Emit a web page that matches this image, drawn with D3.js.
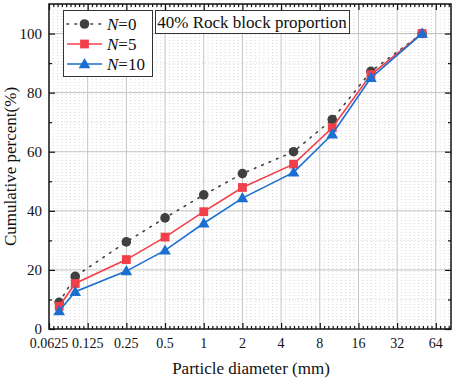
<!DOCTYPE html>
<html>
<head>
<meta charset="utf-8">
<script src="https://cdn.jsdelivr.net/npm/d3@7"></script>
<style>
	body { margin: 0; background: #fff; }
	svg text { font-family: "Liberation Serif", "Times New Roman", serif; fill: #111; }
</style>
</head>
<body>
<div id="graphic"></div>
<script>
// particle sizes (mm) and cumulative percent passing
const sizes = [0.075, 0.1, 0.25, 0.5, 1, 2, 5, 10, 20, 50];
const n0 = [9.0, 17.8, 29.5, 37.6, 45.4, 52.6, 60.0, 70.9, 87.2, 100];
const n5 = [7.7, 15.4, 23.5, 31.1, 39.7, 47.9, 55.8, 68.1, 86.1, 100];
const n10 = [6.1, 12.6, 19.6, 26.6, 35.8, 44.3, 53.0, 65.9, 85.0, 100];
const xTicks = [0.0625, 0.125, 0.25, 0.5, 1, 2, 4, 8, 16, 32, 64];
const xTickLabels = ['0.0625', '0.125', '0.25', '0.5', '1', '2', '4', '8', '16', '32', '64'];
const yTicks = [0, 20, 40, 60, 80, 100];
const seriesNames = ['0', '5', '10'];

const width = 457, height = 379;
const margin = { top: 4, right: 6, bottom: 50, left: 49 };
const chartWidth = width - margin.left - margin.right;
const chartHeight = height - margin.top - margin.bottom;

const series = [
	{ name: seriesNames[0], values: n0, colour: '#404040', shape: 'circle', dash: '1.6,6.4', width: 1.6 },
	{ name: seriesNames[1], values: n5, colour: '#f2404b', shape: 'square', dash: null, width: 1.6 },
	{ name: seriesNames[2], values: n10, colour: '#1b6fd1', shape: 'triangle', dash: null, width: 1.6 }
];

const svg = d3.select('#graphic').append('svg')
	.attr('width', width)
	.attr('height', height);

const g = svg.append('g').attr('transform', `translate(${margin.left},${margin.top})`);

const x = d3.scaleLog().base(2).domain([0.0625, 84]).range([0, chartWidth]);
const y = d3.scaleLinear().domain([0, 110]).range([chartHeight, 0]);

// minor ticks: 8 per octave, evenly spaced in log space
let xMinor = [];
for (let i = 0; i < xTicks.length; i++) {
	for (let k = 1; k < 9; k++) {
		const v = xTicks[i] * Math.pow(2, k / 9);
		if (v < x.domain()[1]) xMinor.push(v);
	}
}
const yMinor = [10, 30, 50, 70, 90];

// minor grid (dotted)
g.append('g').selectAll('line').data(xMinor).join('line')
	.attr('x1', d => x(d)).attr('x2', d => x(d))
	.attr('y1', 0).attr('y2', chartHeight)
	.attr('stroke', '#cfcfcf').attr('stroke-width', 0.8).attr('stroke-dasharray', '1,2');
g.append('g').selectAll('line').data(yMinor).join('line')
	.attr('x1', 0).attr('x2', chartWidth)
	.attr('y1', d => y(d)).attr('y2', d => y(d))
	.attr('stroke', '#cfcfcf').attr('stroke-width', 0.8).attr('stroke-dasharray', '1,2');

// major grid
g.append('g').selectAll('line').data(xTicks.slice(1)).join('line')
	.attr('x1', d => x(d)).attr('x2', d => x(d))
	.attr('y1', 0).attr('y2', chartHeight)
	.attr('stroke', '#c4c4c4').attr('stroke-width', 1);
g.append('g').selectAll('line').data(yTicks.slice(1)).join('line')
	.attr('x1', 0).attr('x2', chartWidth)
	.attr('y1', d => y(d)).attr('y2', d => y(d))
	.attr('stroke', '#c4c4c4').attr('stroke-width', 1);

// axes with inward ticks
function styleAxis(sel) {
	sel.select('.domain').remove();
	sel.selectAll('line').attr('stroke', '#111').attr('stroke-width', 1.2);
}
g.append('g').attr('transform', `translate(0,${chartHeight})`)
	.call(d3.axisTop(x).tickValues(xTicks).tickSize(6).tickFormat(''))
	.call(styleAxis);
g.append('g').attr('transform', `translate(0,${chartHeight})`)
	.call(d3.axisTop(x).tickValues(xMinor).tickSize(3).tickFormat(''))
	.call(styleAxis);
g.append('g')
	.call(d3.axisBottom(x).tickValues(xTicks).tickSize(6).tickFormat(''))
	.call(styleAxis);
g.append('g')
	.call(d3.axisBottom(x).tickValues(xMinor).tickSize(3).tickFormat(''))
	.call(styleAxis);
g.append('g')
	.call(d3.axisRight(y).tickValues(yTicks).tickSize(6).tickFormat(''))
	.call(styleAxis);
g.append('g')
	.call(d3.axisRight(y).tickValues(yMinor).tickSize(3).tickFormat(''))
	.call(styleAxis);
g.append('g').attr('transform', `translate(${chartWidth},0)`)
	.call(d3.axisLeft(y).tickValues(yTicks).tickSize(6).tickFormat(''))
	.call(styleAxis);
g.append('g').attr('transform', `translate(${chartWidth},0)`)
	.call(d3.axisLeft(y).tickValues(yMinor).tickSize(3).tickFormat(''))
	.call(styleAxis);

// tick labels
g.append('g').selectAll('text').data(xTicks).join('text')
	.attr('x', d => x(d)).attr('y', chartHeight + 19)
	.attr('text-anchor', 'middle')
	.style('font-size', '14px')
	.text((d, i) => xTickLabels[i]);
g.append('g').selectAll('text').data(yTicks).join('text')
	.attr('x', -7).attr('y', d => y(d) + 5)
	.attr('text-anchor', 'end')
	.style('font-size', '15px')
	.text(d => d);

// frame
g.append('rect')
	.attr('width', chartWidth).attr('height', chartHeight)
	.attr('fill', 'none').attr('stroke', '#111').attr('stroke-width', 1.5);

// axis titles
svg.append('text')
	.attr('x', 251).attr('y', 374)
	.attr('text-anchor', 'middle')
	.style('font-size', '17px')
	.text('Particle diameter (mm)');
svg.append('text')
	.attr('transform', `translate(16,${margin.top + chartHeight / 2}) rotate(-90)`)
	.attr('text-anchor', 'middle')
	.style('font-size', '17px')
	.text('Cumulative percent(%)');

function drawMarker(sel, shape, colour, cx, cy) {
	if (shape === 'circle') {
		sel.append('circle').attr('cx', cx).attr('cy', cy).attr('r', 4.8).attr('fill', colour);
	} else if (shape === 'square') {
		sel.append('rect').attr('x', cx - 4.4).attr('y', cy - 4.4).attr('width', 8.8).attr('height', 8.8).attr('fill', colour);
	} else {
		sel.append('path')
			.attr('d', `M${cx},${cy - 6}L${cx + 5.8},${cy + 4.2}L${cx - 5.8},${cy + 4.2}Z`)
			.attr('fill', colour);
	}
}

// lines and markers
const line = d3.line().x(d => x(d[0])).y(d => y(d[1]));
series.forEach(s => {
	const pts = sizes.map((v, i) => [v, s.values[i]]);
	g.append('path')
		.datum(pts)
		.attr('fill', 'none')
		.attr('stroke', s.colour)
		.attr('stroke-width', s.width)
		.attr('stroke-dasharray', s.dash)
		.attr('stroke-linecap', s.dash ? 'round' : 'butt')
		.attr('d', line);
	const mg = g.append('g');
	pts.forEach(p => drawMarker(mg, s.shape, s.colour, x(p[0]), y(p[1])));
});

// legend
const legend = svg.append('g');
legend.append('rect')
	.attr('x', 63.5).attr('y', 10.5).attr('width', 89).attr('height', 66)
	.attr('fill', '#fff').attr('stroke', '#333').attr('stroke-width', 1);
series.forEach((s, i) => {
	const ly = 24 + i * 20;
	legend.append('line')
		.attr('x1', 67).attr('x2', 102).attr('y1', ly).attr('y2', ly)
		.attr('stroke', s.colour).attr('stroke-width', s.width)
		.attr('stroke-dasharray', s.dash)
		.attr('stroke-linecap', s.dash ? 'round' : 'butt');
	drawMarker(legend, s.shape, s.colour, 84.5, ly);
	const t = legend.append('text')
		.attr('x', 107).attr('y', ly + 6)
		.style('font-size', '17px');
	t.append('tspan').style('font-style', 'italic').text('N');
	t.append('tspan').text('=' + s.name);
});

// annotation box
const note = svg.append('g');
note.append('rect')
	.attr('x', 155.5).attr('y', 10.5).attr('width', 194).attr('height', 23)
	.attr('fill', '#fff').attr('stroke', '#333').attr('stroke-width', 1);
note.append('text')
	.attr('x', 252).attr('y', 28)
	.attr('text-anchor', 'middle')
	.style('font-size', '17px')
	.text('40% Rock block proportion');
</script>
</body>
</html>
